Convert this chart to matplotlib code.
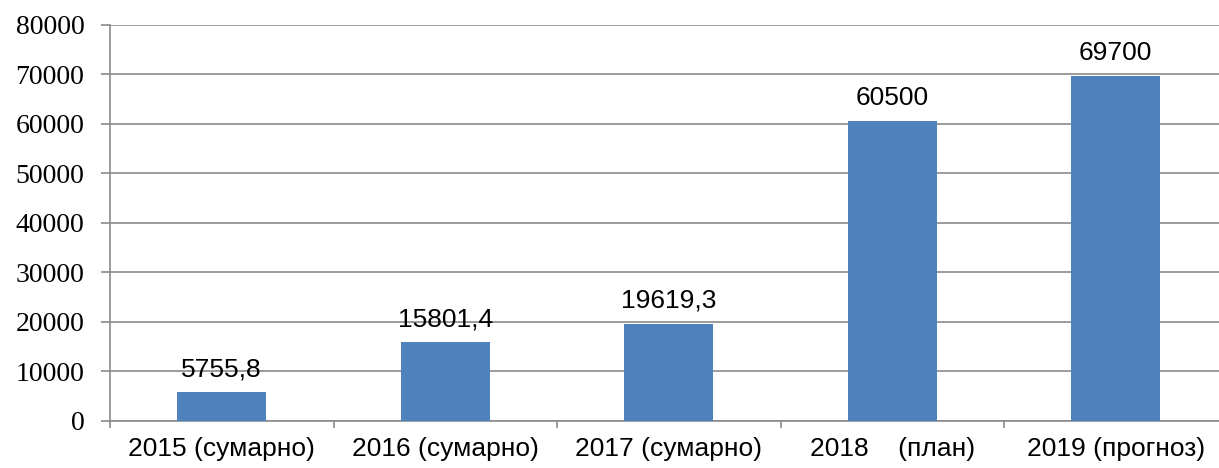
import matplotlib.pyplot as plt
import numpy as np

categories = ["2015 (сумарно)", "2016 (сумарно)", "2017 (сумарно)", "2018    (план)", "2019 (прогноз)"]
values = [5755.8, 15801.4, 19619.3, 60500, 69700]
value_labels = ["5755,8", "15801,4", "19619,3", "60500", "69700"]
y_ticks = [0, 10000, 20000, 30000, 40000, 50000, 60000, 70000, 80000]

grid_color = "#8a8a8a"

fig = plt.figure(figsize=(12.19, 4.68), dpi=100)
ax = fig.add_axes([110 / 1219, 47.3 / 468, 1117.5 / 1219, 396 / 468])

x = np.arange(len(categories))
ax.bar(x, values, width=0.40, color="#4F81BD", zorder=3)

# value labels above bars
for xi, v, lab in zip(x, values, value_labels):
    ax.annotate(lab, (xi, v), xytext=(0, 8), textcoords="offset points",
                ha="center", va="bottom", fontsize=19, family="Liberation Sans")

ax.set_xlim(-0.5, len(categories) - 0.5)
ax.set_ylim(0, 80000)
ax.set_yticks(y_ticks)
ax.set_yticklabels([str(t) for t in y_ticks], family="Liberation Serif", fontsize=20)
ax.tick_params(axis="y", length=6.5, width=1.2, color=grid_color, pad=12)

ax.set_xticks(x)
ax.set_xticklabels(categories, family="Liberation Sans", fontsize=19)
ax.tick_params(axis="x", length=0, pad=12)
ax.set_xticks(np.arange(len(categories) + 1) - 0.5, minor=True)
ax.tick_params(axis="x", which="minor", length=5, width=1.2, color=grid_color)

ax.grid(axis="y", color=grid_color, linewidth=1.2, zorder=0)
ax.set_axisbelow(True)
for side in ["top", "right"]:
    ax.spines[side].set_visible(False)
for side in ["left", "bottom"]:
    ax.spines[side].set_color(grid_color)
    ax.spines[side].set_linewidth(1.2)

plt.savefig("out.png", dpi=100)
